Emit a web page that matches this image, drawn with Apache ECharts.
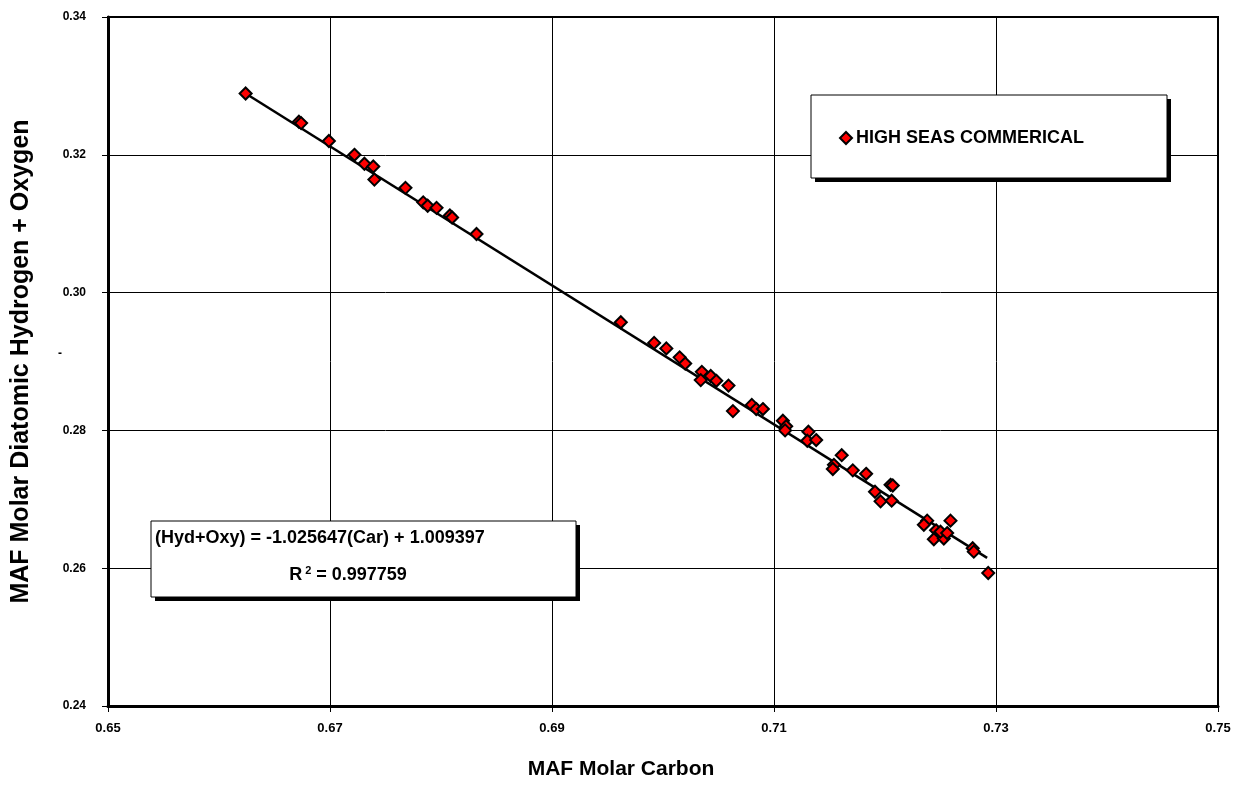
<!DOCTYPE html>
<html>
<head>
<meta charset="utf-8">
<script src="https://cdn.jsdelivr.net/npm/echarts@6/dist/echarts.min.js"></script>
<style>
html,body{margin:0;padding:0;background:#fff;}
#chart{width:1248px;height:789px;}
</style>
</head>
<body>
<div id="chart"></div>
<script>
// Data
const carbon = [0.6624,0.6672,0.6674,0.6699,0.6722,0.6731,0.6739,0.6740,0.6768,0.6784,0.6788,0.6796,0.6808,0.6810,0.6832,
  0.6962,0.6992,0.7003,0.7015,0.7020,0.7035,0.7034,0.7043,0.7048,0.7059,0.7063,0.7080,0.7084,0.7090,
  0.7108,0.7111,0.7110,0.7131,0.7130,0.7138,0.7161,0.7154,0.7153,0.7171,0.7183,0.7191,0.7205,0.7207,0.7196,0.7206,
  0.7238,0.7235,0.7246,0.7244,0.7253,0.7250,0.7256,0.7259,0.7279,0.7280,0.7293];
const hydOxy = [0.3289,0.3248,0.3246,0.3220,0.3200,0.3187,0.3183,0.3164,0.3152,0.3131,0.3126,0.3123,0.3112,0.3109,0.3085,
  0.2957,0.2927,0.2919,0.2906,0.2897,0.2885,0.2873,0.2879,0.2872,0.2865,0.2828,0.2837,0.2831,0.2831,
  0.2814,0.2806,0.2800,0.2798,0.2785,0.2786,0.2764,0.2750,0.2744,0.2742,0.2737,0.2711,0.2721,0.2720,0.2697,0.2698,
  0.2669,0.2663,0.2655,0.2642,0.2643,0.2653,0.2651,0.2669,0.2629,0.2624,0.2593];
const trendX = [0.6624, 0.7292];
const trendY = [0.3289, 0.2615];
const seriesName = 'HIGH SEAS COMMERICAL';
const xTitle = 'MAF Molar Carbon';
const yTitle = 'MAF Molar Diatomic Hydrogen + Oxygen';
const eqLine1 = '(Hyd+Oxy) = -1.025647(Car) + 1.009397';
const eqR2 = '0.997759';

const chart = echarts.init(document.getElementById('chart'));
const font = 'Arial, "Liberation Sans", sans-serif';
const narrow = '"Liberation Sans Narrow", "Arial Narrow", Arial, sans-serif';

function shadowBox(x, y, w, h) {
  return [
    {type: 'rect', shape: {x: x + 4, y: y + 4, width: w, height: h}, style: {fill: '#000'}, z: 10},
    {type: 'rect', shape: {x: x, y: y, width: w, height: h}, style: {fill: '#fff', stroke: '#000', lineWidth: 1}, z: 11}
  ];
}

chart.setOption({
  animation: false,
  backgroundColor: '#fff',
  grid: {left: 108, right: 30, top: 17, bottom: 83, outerBoundsMode: 'none', containLabel: false,
    show: true, borderColor: '#000', borderWidth: 2, backgroundColor: 'transparent'},
  xAxis: {
    type: 'value', min: 0.65, max: 0.75, interval: 0.02,
    axisLine: {show: true, onZero: false, lineStyle: {color: '#000', width: 3}},
    axisTick: {show: true, length: 6, lineStyle: {color: '#000', width: 1}},
    splitLine: {show: true, lineStyle: {color: '#000', width: 1}},
    axisLabel: {color: '#000', fontFamily: narrow, fontWeight: 'bold', fontSize: 13, margin: 16,
      formatter: v => v.toFixed(2)},
    name: xTitle, nameLocation: 'middle', nameGap: 53,
    nameTextStyle: {color: '#000', fontFamily: font, fontWeight: 'bold', fontSize: 21, padding: [0, 84, 0, 0]}
  },
  yAxis: {
    type: 'value', min: 0.24, max: 0.34, interval: 0.02,
    axisLine: {show: true, onZero: false, lineStyle: {color: '#000', width: 3}},
    axisTick: {show: true, length: 6, lineStyle: {color: '#000', width: 1}},
    splitLine: {show: true, lineStyle: {color: '#000', width: 1}},
    axisLabel: {color: '#000', fontFamily: font, fontWeight: 'bold', fontSize: 12, margin: 22,
      formatter: v => v.toFixed(2)},
    name: yTitle, nameLocation: 'middle', nameGap: 74, nameRotate: 90,
    nameTextStyle: {color: '#000', fontFamily: font, fontWeight: 'bold', fontSize: 25}
  },
  legend: {
    left: 839, top: 129, padding: 0, itemWidth: 12, itemHeight: 12, itemGap: 10,
    data: [{name: seriesName, icon: 'diamond'}],
    itemStyle: {borderColor: '#000', borderWidth: 2},
    textStyle: {color: '#000', fontFamily: font, fontWeight: 'bold', fontSize: 18, padding: [0,0,0,-1]},
    z: 20
  },
  graphic: [
    ...shadowBox(811, 95, 356, 83),
    ...shadowBox(151, 521, 425, 76),
    {type: 'text', x: 155, y: 538, z: 12,
      style: {text: eqLine1, fill: '#000', font: 'bold 18px ' + font, textVerticalAlign: 'middle'}},
    {type: 'text', x: 348, y: 575, z: 12,
      style: {text: '{a|R}{s|2}{a| = ' + eqR2 + '}', textAlign: 'center', textVerticalAlign: 'middle',
        rich: {a: {fontFamily: font, fontWeight: 'bold', fontSize: 18, color: '#000'},
               s: {fontFamily: font, fontWeight: 'bold', fontSize: 11, color: '#000', verticalAlign: 'top', padding: [0,0,8,3]}}}},
    {type: 'text', x: 60, y: 354, z: 12,
      style: {text: '-', fill: '#000', font: 'bold 12px ' + font, textAlign: 'center', textVerticalAlign: 'middle'}}
  ],
  series: [
    {
      name: 'trend', type: 'line', data: trendX.map((x, i) => [x, trendY[i]]),
      symbol: 'none', lineStyle: {color: '#000', width: 2.5}, z: 3, silent: true
    },
    {
      name: seriesName, type: 'scatter', symbol: 'diamond', symbolSize: 12,
      data: carbon.map((x, i) => [x, hydOxy[i]]),
      itemStyle: {color: '#ff0000', borderColor: '#000', borderWidth: 2, opacity: 1}, z: 4
    }
  ]
});
</script>
</body>
</html>
